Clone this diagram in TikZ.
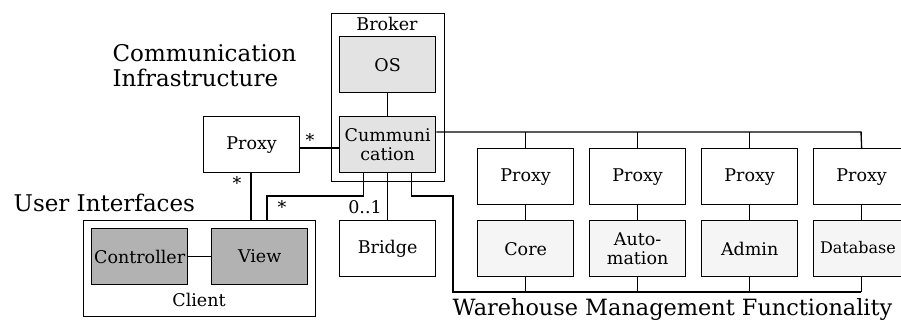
\documentclass[tikz,border=0pt]{standalone}
\usepackage{fontspec}
\setmainfont{DejaVu Serif}
\begin{document}
\begin{tikzpicture}[x=1pt,y=-1pt,line width=1.3pt,
  box/.style={draw,minimum width=96pt,minimum height=56pt,anchor=north west,inner sep=0pt,align=center,font=\fontsize{17.5}{19}\selectfont},
  lbl/.style={font=\fontsize{17.5}{17.5}\selectfont,inner sep=0pt},
  title/.style={font=\fontsize{23}{25}\selectfont,inner sep=0pt,align=left}]
\useasboundingbox (0,0) rectangle (901,320);
\definecolor{lg}{gray}{0.89}
\definecolor{vlg}{gray}{0.96}
\definecolor{dg}{gray}{0.70}
% containers
\node[draw,minimum width=113pt,minimum height=168pt,anchor=north west,inner sep=0pt] (broker) at (331,13) {};
\node[lbl] (brokerlbl) at (387,24) {Broker};
\node[draw,minimum width=232pt,minimum height=96pt,anchor=north west,inner sep=0pt] (client) at (83,220) {};
\node[lbl] (clientlbl) at (199,300) {Client};
% boxes
\node[box,fill=lg] (os) at (339,36) {OS};
\node[box,fill=lg] (comm) at (339,116) {Cummuni\\cation};
\node[box] (proxy) at (203,116) {Proxy};
\node[box,fill=dg] (ctrl) at (91,228) {Controller};
\node[box,fill=dg] (view) at (211,228) {View};
\node[box] (bridge) at (339,220) {Bridge};
\node[box] (p1) at (477,148) {Proxy};
\node[box] (p2) at (589,148) {Proxy};
\node[box] (p3) at (701,148) {Proxy};
\node[box] (p4) at (813,148) {Proxy};
\node[box,fill=vlg] (core) at (477,220) {Core};
\node[box,fill=vlg] (auto) at (589,220) {Auto-\\mation};
\node[box,fill=vlg] (admin) at (701,220) {Admin};
\node[box,fill=vlg] (db) at (813,220) {};
\node[font=\fontsize{16}{16}\selectfont,inner sep=0pt] (dblbl) at (858,248) {Database};
% titles
\node[title,anchor=north west] (ci) at (112,44) {Communication\\Infrastructure};
\node[title,anchor=west] (ui) at (13,203) {User Interfaces};
\node[title,anchor=west,font=\fontsize{22.4}{24}\selectfont] (wm) at (452,309) {Warehouse Management Functionality};
% connectors
\draw (os) -- (comm);
\draw (proxy.east |- 0,148) -- (comm.west |- 0,148);
\draw (ctrl) -- (view);
\coordinate (c1) at (251,220);
\draw (proxy.south -| c1) -- (c1);
\draw ([xshift=-24pt]comm.south) |- (267,196) -- (267,220);
\draw (comm.south) -- (bridge.north);
\coordinate (rb) at (861,292);
\draw ([xshift=24pt]comm.south) |- (453,196) |- (rb);
\draw (comm.east |- 0,132) -- (861,132) -- (p4.north);
\foreach \p/\q in {p1/core,p2/auto,p3/admin,p4/db}{
  \draw (\p.north) -- (\p.north |- 0,132);
  \draw (\p) -- (\q);
  \draw (\q.south) -- (\q.south |- rb);
}
% multiplicities
\node[lbl] (m1) at (310,140) {*};
\node[lbl] (m2) at (237,183) {*};
\node[lbl] (m3) at (282,207) {*};
\node[lbl] (m4) at (365,207) {0..1};
\end{tikzpicture}
\end{document}
